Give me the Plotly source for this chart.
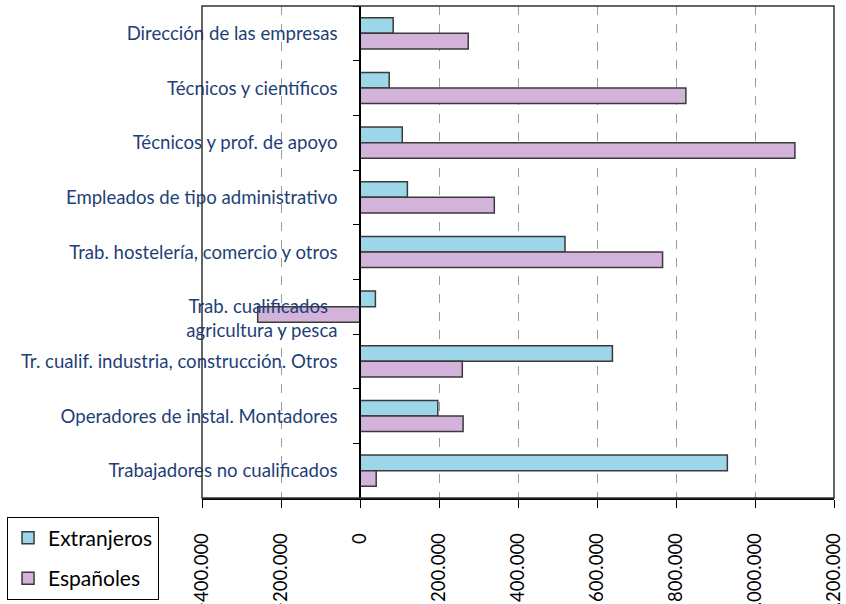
import plotly.graph_objects as go

categorias = [
    "Dirección de las empresas",
    "Técnicos y científicos",
    "Técnicos y prof. de apoyo",
    "Empleados de tipo administrativo",
    "Trab. hostelería, comercio y otros",
    "<br>Trab. cualificados&nbsp;&nbsp;<br>agricultura y pesca",
    "Tr. cualif. industria, construcción. Otros",
    "Operadores de instal. Montadores",
    "Trabajadores no cualificados",
]
extranjeros = [84000, 74000, 107000, 120000, 519000, 39000, 639000, 197000, 930000]
espanoles = [274000, 825000, 1101000, 340000, 766000, -259000, 259000, 261000, 41000]

x_ticks = list(range(-400000, 1200001, 200000))

fuente = "Lato, 'Open Sans', sans-serif"
azul = "#1f3f78"

fig = go.Figure()
fig.add_bar(y=categorias, x=extranjeros, name="Extranjeros", orientation="h",
            legendgroup="ext",
            marker=dict(color="#9dd5e9", line=dict(color="#3a3a3a", width=1.5)))
fig.add_bar(y=categorias, x=espanoles, name="Españoles", orientation="h",
            legendgroup="esp",
            marker=dict(color="#d4b3db", line=dict(color="#3a3a3a", width=1.5)))

fig.update_layout(
    width=846, height=604,
    margin=dict(l=202, r=12, t=6, b=106, autoexpand=False),
    plot_bgcolor="white", paper_bgcolor="white",
    barmode="group", bargap=0.43, bargroupgap=0,
    separators=",.",
    font=dict(family=fuente, size=17, color="black"),
    legend=dict(
        x=-0.3085, y=-0.038, xanchor="left", yanchor="top",
        bordercolor="black", borderwidth=1, bgcolor="white",
        font=dict(size=21), tracegroupgap=10,
    ),
    showlegend=True,
)

fig.update_xaxes(
    range=[-400000, 1200000], tickvals=x_ticks, tickformat=",d",
    tickangle=-90, ticks="outside", ticklen=8, tickcolor="black",
    ticklabelstandoff=18, automargin=False,
    showline=True, linecolor="black", linewidth=1.5,
    showgrid=True, gridcolor="#9a9a9a", griddash="dash", gridwidth=1,
    zeroline=False, tickfont=dict(size=18.5, color="black"),
)
fig.update_yaxes(
    type="category", categoryorder="array", categoryarray=categorias,
    autorange="reversed", anchor="free", position=0.25, automargin=False,
    showline=True, linecolor="black", linewidth=1.5,
    ticks="outside", tickson="boundaries", ticklen=6, tickcolor="black",
    ticklabelstandoff=18,
    showgrid=False, tickfont=dict(size=18.6, color=azul),
)

# marco del area de trazado
fig.add_shape(type="rect", xref="paper", yref="paper", x0=0, x1=1, y0=0, y1=1,
              line=dict(color="#333333", width=1.5), layer="above")

# sin margen del body para que la figura ocupe la ventana entera
fig.write_html("out.html", config={"displayModeBar": False},
               post_script="document.body.style.margin='0';")
